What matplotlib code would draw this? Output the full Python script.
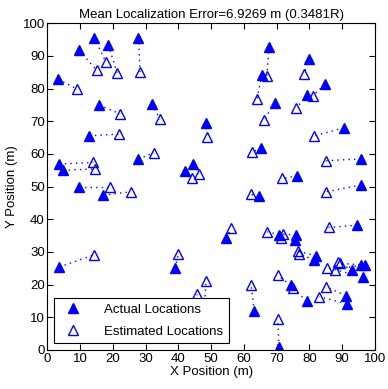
import numpy as np
import matplotlib
matplotlib.use('Agg')
import matplotlib.pyplot as plt

# 实际位置 / 估计位置 (按对应顺序)
actual_x = [3.3, 9.7, 14.3, 18.6, 27.8, 15.8, 31.9, 48.4, 12.8, 27.8, 3.6, 4.8,
            42.0, 44.6, 9.7, 17.1, 3.6, 39.0, 48.0, 45.0,
            67.8, 79.8, 65.5, 84.7, 79.4, 69.4, 90.5, 65.3, 95.8, 76.4,
            64.5, 95.8, 94.7, 54.7, 70.8, 75.9, 75.5, 82.1, 81.3, 93.2,
            95.9, 97.1, 96.3, 74.4, 79.2, 91.2, 91.4, 63.2, 70.8]
actual_y = [82.9, 91.7, 95.6, 93.3, 95.6, 74.9, 75.2, 69.6, 65.5, 58.4, 56.9, 55.0,
            54.8, 56.9, 49.8, 47.4, 25.4, 25.0, 13.0, 10.0,
            92.8, 89.2, 84.1, 81.3, 78.0, 75.6, 68.0, 61.7, 58.5, 53.3,
            47.2, 50.5, 38.2, 34.2, 35.2, 35.2, 33.6, 28.8, 27.5, 24.5,
            26.0, 26.0, 22.4, 19.9, 15.0, 16.6, 14.1, 12.0, 1.0]
est_x = [9.1, 15.0, 17.8, 21.3, 28.3, 22.2, 34.4, 48.7, 22.0, 32.6, 14.0, 14.6,
         44.3, 46.3, 19.1, 25.5, 14.2, 40.0, 48.4, 45.8,
         67.0, 78.5, 64.0, 81.0, 76.1, 66.3, 81.6, 62.6, 85.0, 71.8,
         62.2, 85.1, 85.9, 56.1, 67.2, 71.9, 71.4, 76.5, 77.0, 88.7,
         87.9, 89.5, 85.4, 70.3, 75.0, 85.1, 83.1, 62.2, 70.3]
est_y = [79.8, 85.6, 88.2, 84.9, 85.1, 72.3, 70.6, 65.2, 66.1, 60.4, 57.4, 55.4,
         52.5, 53.8, 49.8, 48.4, 29.1, 29.4, 21.1, 17.0,
         83.9, 84.6, 76.7, 77.7, 74.1, 70.5, 65.5, 60.6, 57.9, 52.5,
         47.6, 48.4, 37.5, 37.2, 36.2, 35.5, 34.2, 30.3, 29.5, 26.8,
         24.5, 26.5, 25.2, 22.8, 18.9, 19.4, 16.3, 19.9, 9.5]

plt.rcParams['font.family'] = ['Liberation Sans', 'DejaVu Sans']
plt.rcParams['font.size'] = 9.5

fig = plt.figure(figsize=(3.88, 3.89), dpi=100)
ax = fig.add_axes([0.1224, 0.1003, 0.8433, 0.8400])

# 虚线连接实际位置与估计位置
for xa, ya, xe, ye in zip(actual_x, actual_y, est_x, est_y):
    ax.plot([xa, xe], [ya, ye], linestyle=(0, (1, 3)), color='b', linewidth=1.0)

ax.plot(actual_x, actual_y, '^', color='b', markersize=7.5, linestyle='none',
        label='Actual Locations')
ax.plot(est_x, est_y, '^', markerfacecolor='none', markeredgecolor='b',
        markersize=7.5, linestyle='none', label='Estimated Locations')

ax.set_xlim(0, 100)
ax.set_ylim(0, 100)
ax.set_xticks(np.arange(0, 101, 10))
ax.set_yticks(np.arange(0, 101, 10))
ax.tick_params(direction='in', top=True, right=True, length=4, pad=2)
ax.set_xlabel('X Position (m)', labelpad=1)
ax.set_ylabel('Y Position (m)', labelpad=3)
ax.set_title('Mean Localization Error=6.9269 m (0.3481R)', fontsize=9.5, pad=4)

leg = ax.legend(loc='lower left', fancybox=False, edgecolor='k', framealpha=1,
                borderaxespad=0.5, handletextpad=1.4, labelspacing=0.75,
                borderpad=0.4)
leg.get_frame().set_linewidth(0.8)

plt.savefig('out.png', dpi=100)
